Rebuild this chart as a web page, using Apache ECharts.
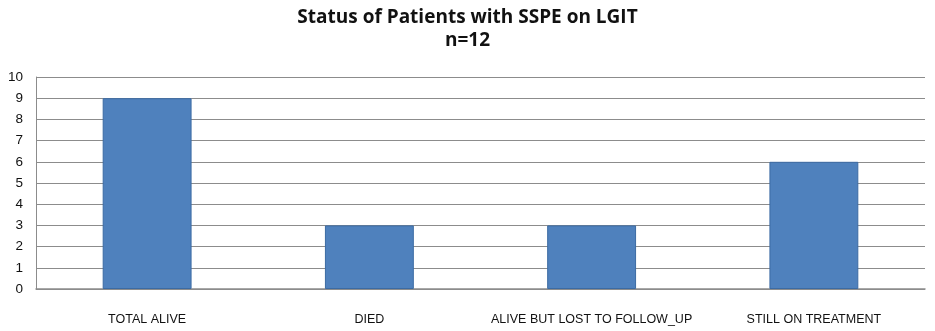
<!DOCTYPE html>
<html>
<head>
<meta charset="utf-8">
<script src="https://cdn.jsdelivr.net/npm/echarts@6/dist/echarts.min.js"></script>
<style>
html,body{margin:0;padding:0;background:#fff;}
#main{width:935px;height:331px;}
</style>
</head>
<body>
<div id="main"></div>
<script>
var categories = ['TOTAL ALIVE', 'DIED', 'ALIVE BUT LOST TO FOLLOW_UP', 'STILL ON TREATMENT'];
var patients = [9, 3, 3, 6];
var yTicks = [0, 1, 2, 3, 4, 5, 6, 7, 8, 9, 10];

var chart = echarts.init(document.getElementById('main'));
var option = {
  animation: false,
  title: {
    text: 'Status of Patients with SSPE on LGIT\nn=12',
    left: 'center',
    top: 1,
    textStyle: {
      fontFamily: 'Open Sans',
      fontWeight: 'bold',
      fontSize: 19,
      lineHeight: 23,
      color: '#111'
    }
  },
  grid: { left: 36, right: 10, top: 77, bottom: 42 },
  xAxis: {
    type: 'category',
    data: categories,
    axisLine: { lineStyle: { color: '#8c8c8c', width: 1.5 } },
    axisTick: { show: false },
    axisLabel: { interval: 0, color: '#111', fontSize: 12.5, fontFamily: 'Liberation Sans', margin: 24 }
  },
  yAxis: {
    type: 'value',
    min: yTicks[0],
    max: yTicks[yTicks.length - 1],
    interval: 1,
    axisLine: { show: true, lineStyle: { color: '#8c8c8c' } },
    axisTick: { show: false },
    axisLabel: { color: '#111', fontSize: 13.5, fontFamily: 'Liberation Sans', margin: 13 },
    splitLine: { lineStyle: { color: '#8c8c8c', width: 1.2 } }
  },
  series: [{
    type: 'bar',
    data: patients,
    barWidth: '40%',
    itemStyle: { color: '#4f81bd', borderColor: '#3c6ba3', borderWidth: 1 }
  }]
};
chart.setOption(option);
</script>
</body>
</html>
